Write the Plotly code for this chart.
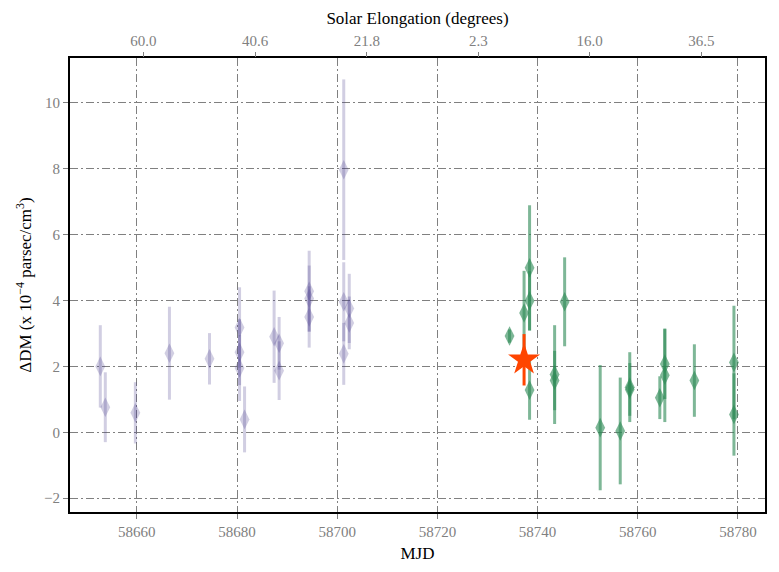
import plotly.graph_objects as go

# Blue (earlier epoch) points
blue_mjd = [58652.7, 58653.7, 58659.7, 58666.5, 58674.5, 58680.5, 58680.5, 58680.5, 58681.5,
            58687.4, 58688.4, 58688.4, 58694.4, 58694.4, 58694.4, 58701.3, 58701.3, 58701.3,
            58702.4, 58702.4]
blue_dm = [2.00, 0.76, 0.59, 2.40, 2.23, 3.18, 2.43, 1.95, 0.39,
           2.90, 2.70, 1.87, 4.28, 4.06, 3.50, 7.97, 3.96, 2.38,
           3.76, 3.32]
blue_err = [1.25, 1.06, 0.93, 1.41, 0.78, 1.22, 1.00, 1.00, 1.00,
            1.40, 0.80, 0.89, 1.23, 1.00, 0.93, 2.74, 1.20, 0.94,
            1.05, 0.80]

# Green (later epoch) points
green_mjd = [58734.4, 58737.3, 58738.4, 58738.4, 58738.4, 58743.4, 58743.4, 58745.4,
             58752.5, 58756.5, 58758.4, 58758.4, 58764.4, 58765.4, 58765.4, 58771.3,
             58779.2, 58779.2]
green_dm = [2.92, 3.62, 4.99, 3.99, 1.28, 1.75, 1.57, 3.96,
            0.14, 0.04, 1.37, 1.30, 1.05, 2.07, 1.73, 1.57,
            2.12, 0.54]
green_err = [0.20, 1.28, 1.90, 0.90, 0.90, 1.50, 0.90, 1.35,
             1.90, 1.62, 1.06, 0.80, 0.65, 1.06, 1.42, 1.10,
             1.72, 1.25]

# Highlighted point
star_mjd = [58737.3]
star_dm = [2.2]
star_err = [0.78]

# Top axis (solar elongation)
elong_mjd = [58661.3, 58683.6, 58705.9, 58728.2, 58750.4, 58772.7]
elong_labels = ["60.0", "40.6", "21.8", "2.3", "16.0", "36.5"]

# Bottom / left tick labels
mjd_ticks = [58660, 58680, 58700, 58720, 58740, 58760, 58780]
dm_ticks = [-2, 0, 2, 4, 6, 8, 10]
dm_labels = ["\u22122", "0", "2", "4", "6", "8", "10"]

x_range = [58646.65, 58785.4]
y_range = [-2.42, 11.36]

FONT = "Liberation Serif"
GRID = "rgb(128,128,128)"
TICKC = "rgb(128,128,128)"
DASH = "8px,3px,2px,3px"

fig = go.Figure()

blue_c = "rgba(72,61,139,0.25)"
green_c = "rgba(46,139,87,0.62)"

fig.add_trace(go.Scatter(
    x=blue_mjd, y=blue_dm, mode="markers",
    marker=dict(symbol="diamond-tall", size=14, color=blue_c, line=dict(width=0)),
    error_y=dict(type="data", array=blue_err, visible=True, thickness=3, width=0, color=blue_c),
    showlegend=False))

fig.add_trace(go.Scatter(
    x=green_mjd, y=green_dm, mode="markers",
    marker=dict(symbol="diamond-tall", size=14, color=green_c, line=dict(width=0)),
    error_y=dict(type="data", array=green_err, visible=True, thickness=3, width=0, color=green_c),
    showlegend=False))

fig.add_trace(go.Scatter(
    x=star_mjd, y=star_dm, mode="markers",
    marker=dict(symbol="star", size=24, color="rgb(255,69,0)", line=dict(width=0)),
    error_y=dict(type="data", array=star_err, visible=True, thickness=3, width=0, color="rgb(255,69,0)"),
    showlegend=False))

# invisible trace to anchor the top axis
fig.add_trace(go.Scatter(x=elong_mjd, y=[None]*len(elong_mjd), xaxis="x2", mode="markers",
                         marker=dict(opacity=0), showlegend=False, hoverinfo="skip"))

fig.update_layout(
    width=779, height=572,
    margin=dict(l=70, r=12, t=58, b=58),
    paper_bgcolor="white", plot_bgcolor="white",
    font=dict(family=FONT, size=15, color="black"),
    xaxis=dict(
        range=x_range, tickvals=mjd_ticks, ticktext=[str(v) for v in mjd_ticks],
        ticks="outside", ticklen=5, tickcolor=TICKC, tickwidth=1,
        tickfont=dict(family=FONT, size=15, color=TICKC),
        showgrid=True, gridcolor=GRID, gridwidth=1.4, griddash=DASH,
        zeroline=False, showline=True, linecolor="black", linewidth=2, mirror=True,
        title=dict(text="MJD", font=dict(family=FONT, size=17, color="black"), standoff=8),
    ),
    xaxis2=dict(
        range=x_range, overlaying="x", side="top", anchor="y",
        tickvals=elong_mjd, ticktext=elong_labels,
        ticks="outside", ticklen=5, tickcolor=TICKC, tickwidth=1,
        tickfont=dict(family=FONT, size=15, color=TICKC),
        showgrid=False, zeroline=False, showline=False,
        title=dict(text="Solar Elongation (degrees)", font=dict(family=FONT, size=17, color="black"), standoff=4),
    ),
    yaxis=dict(
        range=y_range, tickvals=dm_ticks, ticktext=dm_labels,
        ticks="outside", ticklen=5, tickcolor=TICKC, tickwidth=1,
        tickfont=dict(family=FONT, size=15, color=TICKC),
        showgrid=True, gridcolor=GRID, gridwidth=1.4, griddash=DASH,
        zeroline=False, showline=True, linecolor="black", linewidth=2, mirror=True,
        title=dict(text="\u0394DM (x 10<sup>\u22124</sup> parsec/cm<sup>3</sup>)",
                   font=dict(family=FONT, size=17, color="black"), standoff=8),
    ),
)

fig.write_html("out.html")
